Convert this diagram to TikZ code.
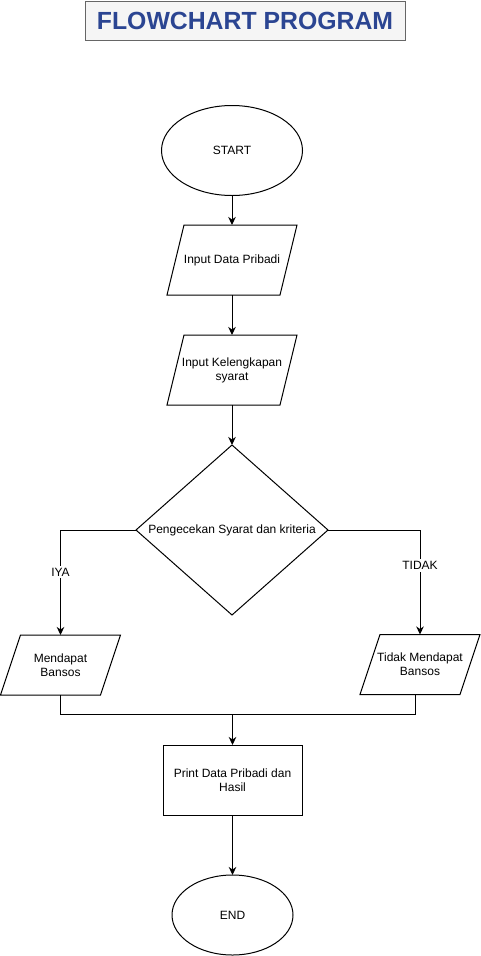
\documentclass[tikz,border=0pt]{standalone}
\usepackage{fontspec}
\setmainfont{Liberation Sans}
\usetikzlibrary{arrows.meta,shapes,positioning}
\definecolor{titleblue}{HTML}{2B4592}
\definecolor{titlefill}{HTML}{F5F5F5}
\definecolor{titledraw}{HTML}{666666}

\begin{document}
\begin{tikzpicture}[x=1pt,y=1pt,>={Stealth[length=8pt,width=7.5pt,inset=2.5pt]},line width=1pt,
    font=\fontsize{12}{14}\selectfont,every node/.style={outer sep=0pt}]

  \tikzstyle{heading}=[rectangle,draw=titledraw,fill=titlefill,text=titleblue,minimum width=320pt,minimum height=39pt,font=\fontsize{24.8}{28}\selectfont\bfseries]
  \tikzstyle{terminal}=[ellipse,draw,minimum width=141pt,minimum height=90pt,inner sep=0pt]
  \tikzstyle{inout}=[rectangle,minimum width=130pt,minimum height=70pt,inner sep=0pt,align=center]
  \tikzstyle{sideio}=[inout,minimum width=120pt,minimum height=60pt]
  \tikzstyle{decision}=[diamond,draw,aspect=1.13,minimum width=192pt,minimum height=170pt,inner sep=0pt]
  \tikzstyle{process}=[rectangle,draw,minimum width=139pt,minimum height=70pt,align=center]
  \tikzstyle{label}=[fill=white,inner sep=2pt]

  \useasboundingbox (0,0) rectangle (481,-956);

  \node [heading]  (title) at (245,-20.5)           {FLOWCHART PROGRAM};

  \node [terminal] (start) at (232,-150.5)          {START};
  \node [inout]    (in1)   [below=29.5pt of start]  {Input Data Pribadi};
  \node [inout]    (in2)   [below=40pt of in1]      {Input Kelengkapan\\syarat};
  \node [decision] (cek)   [below=40pt of in2]      {Pengecekan Syarat dan kriteria};
  \node [sideio]   (iya)   at (60.5,-665)           {Mendapat\\Bansos};
  \node [sideio]   (tidak) at (420,-664.5)          {Tidak Mendapat\\Bansos};
  \node [process]  (print) at (232.5,-780)          {Print Data Pribadi dan\\Hasil};
  \node [terminal] (stop)  [below=60pt of print,minimum width=121pt,minimum height=80pt] {END};

  % slanted outlines of the input/output boxes
  \foreach \n/\s in {in1/17,in2/17,iya/20,tidak/20}
    \draw ([xshift=\s pt]\n.north west) -- (\n.north east) -- ([xshift=-\s pt]\n.south east) -- (\n.south west) -- cycle;

  \coordinate (join) at (print.north |- 0,-714.5);

  \draw [->] (start) -- (in1);
  \draw [->] (in1) -- (in2);
  \draw [->] (in2) -- (cek);
  \draw [->] (cek.west) -| (iya) node [label,pos=0.7] {IYA};
  \draw [->] (cek.east) -| (tidak) node [label,pos=0.67] {TIDAK};
  \draw (iya.south) |- (join);
  \draw ([xshift=-5pt]tidak.south) |- (join);
  \draw [->] (join) -- (print);
  \draw [->] (print) -- (stop);

\end{tikzpicture}
\end{document}
